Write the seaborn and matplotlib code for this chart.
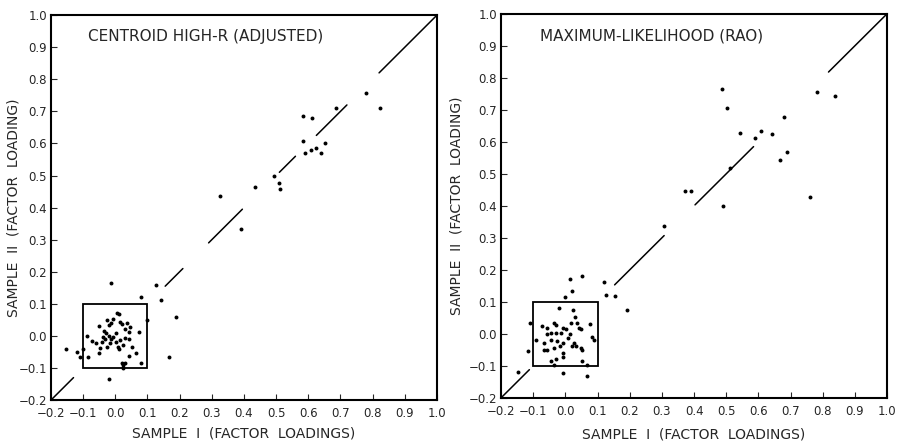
"""
plot.py - factor loadings of sample I vs sample II, two extraction methods.
"""

import matplotlib
matplotlib.use("Agg")
import matplotlib.pyplot as plt
import matplotlib.patches as mpatches
import pandas as pd
import seaborn as sns


# ── Data ──────────────────────────────────────────────────────────────────────

centroid_x = [
    -0.013, 0.080, 0.125, 0.142, 0.189, 0.166, -0.154, -0.120, -0.110, -0.100,
    -0.020, 0.326, 0.390, 0.435, 0.492, 0.510, 0.513, 0.582, 0.613, 0.685,
    0.779, 0.823, 0.583, 0.589, 0.607, 0.623, 0.640, 0.652, 0.099, 0.081,
    0.004, 0.012, -0.006, -0.013, -0.020, 0.015, 0.022, 0.036, 0.046, 0.029,
    0.044, 0.073, -0.051, -0.035, -0.029, -0.039, -0.021, -0.006, -0.013, 0.001,
    0.015, 0.030, 0.042, 0.023, 0.008, -0.017, -0.027, -0.048, -0.060, -0.050,
    -0.072, -0.087, -0.085, 0.041, 0.064, 0.020, 0.025, 0.030, 0.025, 0.012,
    0.003, -0.033, -0.042, 0.051, -0.027,
]
centroid_y = [
    0.166, 0.121, 0.160, 0.112, 0.060, -0.066, -0.042, -0.050, -0.065, -0.040,
    -0.135, 0.437, 0.334, 0.463, 0.499, 0.477, 0.458, 0.686, 0.679, 0.709,
    0.758, 0.709, 0.607, 0.571, 0.579, 0.586, 0.571, 0.600, 0.051, -0.086,
    0.072, 0.068, 0.052, 0.041, 0.034, 0.044, 0.037, 0.039, 0.029, 0.023,
    0.011, 0.011, 0.031, 0.015, 0.008, -0.003, -0.001, -0.003, -0.011, -0.018,
    -0.013, -0.008, -0.011, -0.029, -0.034, -0.023, -0.034, -0.039, -0.023, -0.052,
    -0.016, -0.001, -0.065, -0.063, -0.052, -0.085, -0.090, -0.085, -0.099, -0.042,
    0.008, -0.011, -0.018, -0.034, 0.050,
]

ml_x = [
    0.013, 0.051, 0.022, -0.002, 0.120, 0.127, 0.153, 0.193, -0.111, -0.115,
    -0.148, -0.009, 0.067, 0.307, 0.372, 0.390, 0.486, 0.502, 0.512, 0.491,
    0.543, 0.589, 0.607, 0.642, 0.679, 0.666, 0.690, 0.759, 0.781, 0.837,
    -0.020, 0.024, 0.029, 0.016, 0.037, 0.042, 0.049, 0.078, 0.084, 0.088,
    -0.074, -0.056, -0.037, -0.029, -0.009, 0.001, -0.014, -0.029, -0.056, -0.092,
    -0.066, -0.045, -0.025, -0.009, -0.035, -0.056, 0.027, 0.032, 0.047, 0.052,
    -0.006, -0.009, -0.029, -0.045, -0.037, 0.052, 0.067, 0.015, 0.007, 0.019,
    -0.066, -0.018, -0.045,
]
ml_y = [
    0.171, 0.180, 0.135, 0.115, 0.161, 0.122, 0.119, 0.075, 0.034, -0.054,
    -0.120, -0.122, -0.133, 0.336, 0.447, 0.445, 0.766, 0.706, 0.519, 0.399,
    0.629, 0.613, 0.635, 0.624, 0.676, 0.544, 0.569, 0.426, 0.757, 0.744,
    0.081, 0.073, 0.053, 0.034, 0.034, 0.019, 0.014, 0.032, -0.011, -0.018,
    0.026, 0.019, 0.034, 0.029, 0.019, 0.016, 0.003, 0.003, -0.002, -0.020,
    -0.028, -0.018, -0.023, -0.028, -0.044, -0.051, -0.028, -0.039, -0.044, -0.051,
    -0.060, -0.072, -0.080, -0.085, -0.098, -0.085, -0.096, -0.002, -0.013, -0.039,
    -0.049, -0.039, 0.003,
]

# visible pieces of the broken y = x reference line
centroid_diag = [(-0.20, -0.13), (0.155, 0.21), (0.29, 0.395),
                 (0.51, 0.56), (0.625, 0.72), (0.82, 1.00)]
ml_diag = [(-0.20, -0.112), (0.153, 0.307), (0.403, 0.585), (0.818, 1.00)]

tick_values = [-0.2, -0.1, 0.0, 0.1, 0.2, 0.3, 0.4, 0.5, 0.6, 0.7, 0.8, 0.9, 1.0]
tick_labels = ["\u22120.2", "\u22120.1", "0.0", "0.1", "0.2", "0.3", "0.4",
               "0.5", "0.6", "0.7", "0.8", "0.9", "1.0"]


# ── Helpers ───────────────────────────────────────────────────────────────────

def draw_panel(ax, xs, ys, diag, title, title_x, ylab_x, xlab_y):
    df = pd.DataFrame({"x": xs, "y": ys})
    sns.scatterplot(data=df, x="x", y="y", ax=ax, color="black",
                    s=8, linewidth=0, legend=False)

    for x0, x1 in diag:
        ax.plot([x0, x1], [x0, x1], color="black", linewidth=1.1)

    # box around the near-zero loadings
    ax.add_patch(mpatches.Rectangle((-0.1, -0.1), 0.2, 0.2, fill=False,
                                    edgecolor="black", linewidth=1.3))

    ax.set_xlim(-0.2, 1.0)
    ax.set_ylim(-0.2, 1.0)
    ax.set_xticks(tick_values)
    ax.set_yticks(tick_values)
    ax.set_xticklabels(tick_labels)
    ax.set_yticklabels(tick_labels)
    ax.tick_params(direction="in", length=4, width=0.8, labelsize=8.5,
                   top=False, right=False)
    ax.tick_params(axis="y", pad=3)
    ax.tick_params(axis="x", pad=5)

    for side in ax.spines.values():
        side.set_linewidth(1.5)
        side.set_color("black")

    ax.set_xlabel("SAMPLE  I  (FACTOR  LOADINGS)", fontsize=10, va="center")
    ax.set_ylabel("SAMPLE  II  (FACTOR  LOADING)", fontsize=10, va="center")
    ax.xaxis.set_label_coords(0.5, xlab_y)
    ax.yaxis.set_label_coords(ylab_x, 0.5)
    ax.text(title_x, 0.963, title, transform=ax.transAxes, fontsize=11,
            ha="left", va="top")


# ── Figure ────────────────────────────────────────────────────────────────────

sns.set_style("ticks")
plt.rcParams["font.family"] = ["DejaVu Sans"]

fig = plt.figure(figsize=(8.98, 4.45), dpi=100)
ax_left = fig.add_axes([0.0568, 0.101, 0.4298, 0.865])
ax_right = fig.add_axes([0.558, 0.106, 0.4298, 0.863])

draw_panel(ax_left, centroid_x, centroid_y, centroid_diag,
           "CENTROID HIGH-R (ADJUSTED)", 0.096, -0.098, -0.086)
draw_panel(ax_right, ml_x, ml_y, ml_diag,
           "MAXIMUM-LIKELIHOOD (RAO)", 0.10, -0.116, -0.096)

fig.savefig("out.png", dpi=100)
